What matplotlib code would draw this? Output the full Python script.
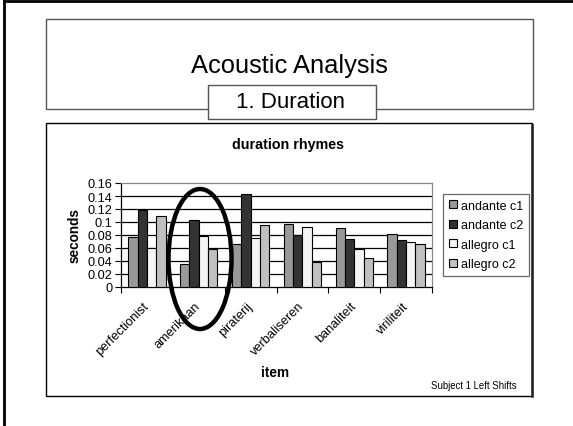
import matplotlib
matplotlib.use("Agg")
import matplotlib.pyplot as plt
import matplotlib.patches as mpatches
from matplotlib.lines import Line2D
import numpy as np

plt.rcParams['font.family'] = ['Liberation Sans', 'DejaVu Sans']

items = ["perfectionist", "amerikaan", "piraterij", "verbaliseren", "banaliteit", "viriliteit"]
series_names = ["andante c1", "andante c2", "allegro c1", "allegro c2"]
andante_c1 = [0.077, 0.036, 0.066, 0.097, 0.091, 0.082]
andante_c2 = [0.119, 0.103, 0.143, 0.080, 0.074, 0.072]
allegro_c1 = [0.060, 0.079, 0.076, 0.093, 0.058, 0.070]
allegro_c2 = [0.110, 0.058, 0.096, 0.038, 0.045, 0.066]
yticks = [0, 0.02, 0.04, 0.06, 0.08, 0.1, 0.12, 0.14, 0.16]
ytick_labels = ["0", "0.02", "0.04", "0.06", "0.08", "0.1", "0.12", "0.14", "0.16"]

colors = ["#999999", "#333333", "#f4f4f4", "#c0c0c0"]

W, H = 573, 427
fig = plt.figure(figsize=(W / 100, H / 100), dpi=100)

def fx(x):
    return x / W

def fy(y):
    return 1 - y / H

# outer frame (left and top)
fig.add_artist(Line2D([fx(4), fx(4)], [fy(1), fy(427)], color="black", lw=2.0, transform=fig.transFigure))
fig.add_artist(Line2D([fx(4), fx(573)], [fy(1.5), fy(1.5)], color="black", lw=2.0, transform=fig.transFigure))

# title box
fig.add_artist(mpatches.Rectangle((fx(46), fy(110)), fx(533) - fx(46), fy(20) - fy(110),
                                  fill=False, edgecolor="#555555", lw=1.0, transform=fig.transFigure))
fig.text(fx(289), fy(66), "Acoustic Analysis", fontsize=18.4, ha="center", va="center")
fig.add_artist(mpatches.Rectangle((fx(208), fy(120)), fx(376) - fx(208), fy(86) - fy(120),
                                  facecolor="white", edgecolor="#555555", lw=1.0, transform=fig.transFigure))
fig.text(fx(291), fy(103), "1. Duration", fontsize=16, ha="center", va="center")

# chart box
fig.add_artist(mpatches.Rectangle((fx(46), fy(397)), fx(532) - fx(46), fy(124) - fy(397),
                                  fill=False, edgecolor="black", lw=1.0, transform=fig.transFigure))
fig.add_artist(Line2D([fx(532), fx(532)], [fy(126), fy(397)], color="#222222", lw=1.8, transform=fig.transFigure))
fig.text(fx(288), fy(145), "duration rhymes", fontsize=10.3, fontweight="bold", ha="center", va="center")

ax = fig.add_axes([fx(121), fy(288), fx(432) - fx(121), fy(184) - fy(288)])
x = np.arange(len(items))
bw = 0.18
data = [andante_c1, andante_c2, allegro_c1, allegro_c2]
for i, (vals, c, name) in enumerate(zip(data, colors, series_names)):
    ax.bar(x + (i - 1.5) * bw, vals, width=bw, color=c, edgecolor="black", linewidth=0.8,
           label=name, zorder=3)

ax.set_xlim(-0.5, len(items) - 0.5)
ax.set_ylim(0, 0.16)
ax.set_yticks(yticks)
ax.set_yticklabels(ytick_labels, fontsize=9.2)
for yv in yticks[1:-1]:
    ax.axhline(yv, color="black", lw=0.9, zorder=1)
ax.tick_params(axis="y", direction="out", length=4, width=0.8, pad=2)

ax.set_xticks(np.arange(-0.5, len(items)), minor=False)
ax.set_xticklabels([])
ax.tick_params(axis="x", which="major", direction="out", length=4, width=0.8)
ax.set_xticks(x - 0.08, minor=True)
ax.set_xticklabels(items, minor=True, rotation=45, ha="right", rotation_mode="anchor", fontsize=9.2)
ax.tick_params(axis="x", which="minor", length=0, pad=9)

ax.spines["top"].set_color("#888888")
ax.spines["right"].set_color("#888888")
ax.spines["left"].set_color("black")
ax.spines["bottom"].set_color("black")
for s in ax.spines.values():
    s.set_linewidth(0.9)

fig.text(fx(75), fy(236), "seconds", fontsize=9.8, fontweight="bold", rotation=90, ha="center", va="center")
fig.text(fx(275), fy(373), "item", fontsize=9.8, fontweight="bold", ha="center", va="center")
fig.text(fx(517), fy(386), "Subject 1 Left Shifts", fontsize=6.9, ha="right", va="center")

handles = [mpatches.Patch(facecolor=c, edgecolor="black", lw=0.8, label=n) for c, n in zip(colors, series_names)]
leg = fig.legend(handles=handles, loc="upper left", bbox_to_anchor=(fx(443), fy(195)),
                 fontsize=9, frameon=True, fancybox=False, handlelength=0.65, handleheight=0.65,
                 handletextpad=0.35, labelspacing=0.6, borderpad=0.45, borderaxespad=0)
leg.get_frame().set_edgecolor("#444444")
leg.get_frame().set_linewidth(0.9)

# ellipse highlight
ell = mpatches.Ellipse((fx(200), fy(260)), fx(63), 140 / H, fill=False, edgecolor="black",
                       lw=3.2, transform=fig.transFigure, zorder=10)
fig.add_artist(ell)

fig.savefig("out.png", dpi=100)
